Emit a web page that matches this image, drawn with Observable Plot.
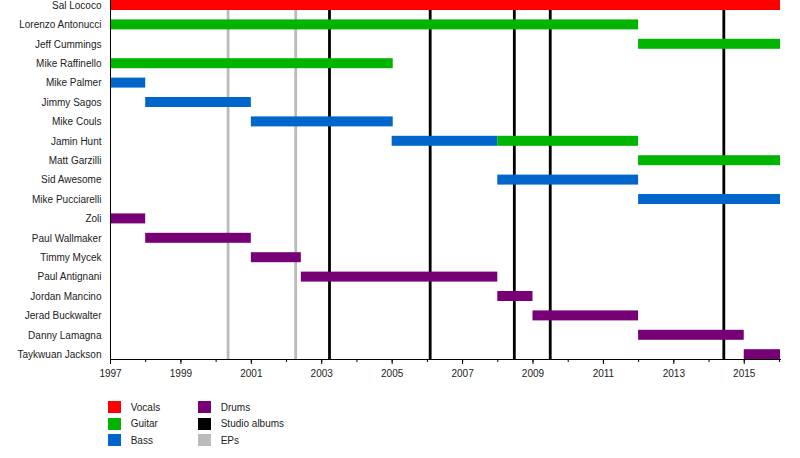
<!DOCTYPE html>
<html>
<head>
<meta charset="utf-8">
<script src="https://cdn.jsdelivr.net/npm/d3@7"></script>
<script src="https://cdn.jsdelivr.net/npm/@observablehq/plot@0.6"></script>
<style>
  body { margin: 0; background: #fff; font-family: "Liberation Sans", Arial, sans-serif; }
  #legend { display: grid; grid-auto-flow: column; grid-template-columns: 90px 130px;
            grid-template-rows: repeat(3, 16.6px); margin-left: 108px; margin-top: 9px;
            font-size: 10px; color: #222; align-items: center; }
  .item { display: flex; align-items: center; }
  .sw { width: 13px; height: 12px; margin-right: 9.7px; }
</style>
</head>
<body>
<div id="chart"></div>
<div id="legend"></div>
<script>
const START = 1997;
const END = 2016.03;

const members = ["Sal Lococo", "Lorenzo Antonucci", "Jeff Cummings", "Mike Raffinello", "Mike Palmer",
  "Jimmy Sagos", "Mike Couls", "Jamin Hunt", "Matt Garzilli", "Sid Awesome", "Mike Pucciarelli",
  "Zoli", "Paul Wallmaker", "Timmy Mycek", "Paul Antignani", "Jordan Mancino", "Jerad Buckwalter",
  "Danny Lamagna", "Taykwuan Jackson"];

const stintMember = ["Sal Lococo", "Lorenzo Antonucci", "Jeff Cummings", "Mike Raffinello", "Mike Palmer",
  "Jimmy Sagos", "Mike Couls", "Jamin Hunt", "Jamin Hunt", "Matt Garzilli", "Sid Awesome", "Mike Pucciarelli",
  "Zoli", "Paul Wallmaker", "Timmy Mycek", "Paul Antignani", "Jordan Mancino", "Jerad Buckwalter",
  "Danny Lamagna", "Taykwuan Jackson"];
const stintRole = ["Vocals", "Guitar", "Guitar", "Guitar", "Bass",
  "Bass", "Bass", "Bass", "Guitar", "Guitar", "Bass", "Bass",
  "Drums", "Drums", "Drums", "Drums", "Drums", "Drums",
  "Drums", "Drums"];
const stintStart = [1997, 1997, 2012, 1997, 1997,
  1998, 2001, 2005, 2008, 2012, 2008, 2012,
  1997, 1998, 2001, 2002.42, 2008, 2009,
  2012, 2015];
const stintEnd = [END, 2012, END, 2005.03, 1998,
  2001, 2005.03, 2008, 2012, END, 2012, END,
  1998, 2001, 2002.42, 2008, 2009, 2012,
  2015, END];

const studioAlbums = [2003.22, 2006.08, 2008.47, 2009.49, 2014.42];
const eps = [2000.34, 2002.26];

const roles = ["Vocals", "Guitar", "Bass", "Drums"];
const roleColors = ["#ff0000", "#00b400", "#0066cc", "#770077"];

const legendLabels = ["Vocals", "Guitar", "Bass", "Drums", "Studio albums", "EPs"];
const legendColors = ["#ff0000", "#00b400", "#0066cc", "#770077", "#000000", "#bbbbbb"];

const majorYears = d3.range(1997, 2016, 2);
const allYears = d3.range(1997, 2017);

const stints = stintMember.map((m, i) => ({member: m, role: stintRole[i], start: stintStart[i], end: stintEnd[i]}));

const step = 19.4;
const y0 = 5 - step / 2;

const chart = Plot.plot({
  width: 800,
  height: 390,
  marginTop: 0,
  marginBottom: 31,
  marginLeft: 110,
  marginRight: 20,
  style: {fontFamily: "Liberation Sans, Arial, sans-serif", fontSize: "10px", background: "#fff", color: "#222"},
  x: {domain: [START, END], label: null},
  y: {domain: members, range: [y0, y0 + step * members.length], paddingInner: 0.485, paddingOuter: 0.2425, round: false, label: null},
  color: {domain: roles, range: roleColors},
  marks: [
    Plot.ruleX(eps, {stroke: "#bbbbbb", strokeWidth: 2.8}),
    Plot.ruleX(studioAlbums, {stroke: "#000", strokeWidth: 2.8}),
    Plot.barX(stints, {x1: "start", x2: "end", y: "member", fill: "role"}),
    Plot.frame({anchor: "left", stroke: "#000"}),
    Plot.frame({anchor: "bottom", stroke: "#000"}),
    Plot.axisX({ticks: allYears, tickSize: 3, tickFormat: () => "", stroke: "#000"}),
    Plot.axisX({ticks: majorYears, tickSize: 5, tickPadding: 5, tickFormat: d => String(d), stroke: "#000", fill: "#222"}),
    Plot.axisY({tickSize: 0, tickPadding: 9, fill: "#222"})
  ]
});
document.getElementById("chart").appendChild(chart);

const legend = document.getElementById("legend");
legendLabels.forEach((l, i) => {
  const it = document.createElement("div");
  it.className = "item";
  const sw = document.createElement("span");
  sw.className = "sw";
  sw.style.background = legendColors[i];
  const t = document.createElement("span");
  t.textContent = l;
  it.appendChild(sw); it.appendChild(t);
  legend.appendChild(it);
});
</script>
</body>
</html>
